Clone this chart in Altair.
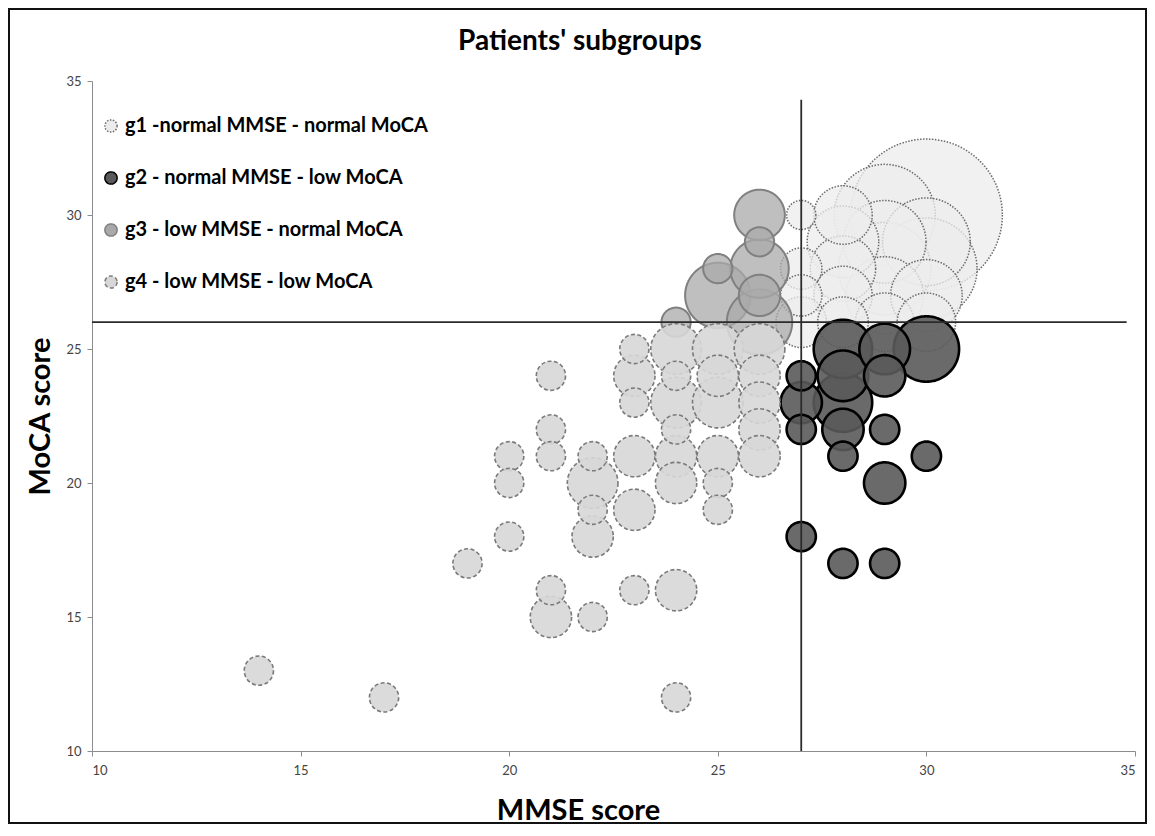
import altair as alt
import pandas as pd

# ---------------- data ----------------
G1 = "g1 -normal MMSE - normal MoCA"
G2 = "g2 - normal MMSE - low MoCA"
G3 = "g3 - low MMSE - normal MoCA"
G4 = "g4 - low MMSE - low MoCA"
groups = [G1, G2, G3, G4]
chart_title = "Patients' subgroups"

# g1: normal MMSE, normal MoCA
g1_mmse = [27, 27, 27, 27, 28, 28, 28, 28, 28, 29, 29, 29, 29, 29, 30, 30, 30, 30, 30]
g1_moca = [30, 28, 27, 26, 30, 29, 28, 27, 26, 30, 29, 28, 27, 26, 30, 29, 28, 27, 26]
g1_n    = [1,  2,  2,  3,  4,  6,  5,  4,  3,  12, 8,  10, 7,  4,  27, 9,  12, 6,  4]

# g2: normal MMSE, low MoCA
g2_mmse = [27, 28, 29, 29, 30, 29, 28, 27, 28, 28, 27, 27, 28, 28, 29, 29, 30]
g2_moca = [18, 17, 17, 20, 21, 22, 21, 22, 22, 23, 23, 24, 24, 25, 24, 25, 25]
g2_n    = [1,  1,  1,  2,  1,  1,  1,  1,  2,  4,  2,  1,  3,  4,  2,  3,  5]

# g3: low MMSE, normal MoCA
g3_mmse = [24, 25, 25, 26, 26, 26, 26, 26]
g3_moca = [26, 28, 27, 30, 29, 28, 27, 26]
g3_n    = [1,  1,  5,  3,  1,  4,  2,  5]

# g4: low MMSE, low MoCA
g4_mmse = [14, 17, 19, 20, 20, 20, 21, 21, 21, 21, 21, 22, 22, 22, 22, 22,
           23, 23, 23, 23, 23, 23, 24, 24, 24, 24, 24, 24, 24, 24,
           25, 25, 25, 25, 25, 25, 26, 26, 26, 26, 26]
g4_moca = [13, 12, 17, 21, 20, 18, 24, 22, 21, 16, 15, 21, 20, 19, 18, 15,
           25, 24, 23, 21, 19, 16, 25, 24, 23, 22, 21, 20, 16, 12,
           25, 24, 23, 21, 20, 19, 25, 24, 23, 22, 21]
g4_n    = [1,  1,  1,  1,  1,  1,  1,  1,  1,  1,  2,  1,  3,  1,  2,  1,
           1,  2,  1,  2,  2,  1,  3,  1,  3,  1,  2,  2,  2,  1,
           3,  2,  3,  2,  1,  1,  3,  2,  2,  2,  2]

# threshold lines
cut_mmse = 27
cut_moca = 26
vline_moca = [10, 34.3]
hline_mmse = [10, 34.8]

x_ticks = [10, 15, 20, 25, 30, 35]
y_ticks = [10, 15, 20, 25, 30, 35]

# ---------------- table ----------------
rows = []
for grp, xs, ys, ns in [(G1, g1_mmse, g1_moca, g1_n), (G2, g2_mmse, g2_moca, g2_n),
                        (G3, g3_mmse, g3_moca, g3_n), (G4, g4_mmse, g4_moca, g4_n)]:
    for x, y, n in sorted(zip(xs, ys, ns), key=lambda t: -t[2]):
        rows.append({"group": grp, "mmse": x, "moca": y, "n": n})
df = pd.DataFrame(rows)
df["z"] = range(len(df))

fills = ["#ececec", "#5a5a5a", "#a9a9a9", "#d7d7d7"]
strokes = ["#6a6a6a", "#000000", "#808080", "#7a7a7a"]
dashes = [[1.5, 1.5], [1, 0], [1, 0], [4, 2.5]]
widths = {G1: 1.5, G2: 2.6, G3: 2.0, G4: 1.6}
opac = {G1: 0.75, G2: 0.9, G3: 0.75, G4: 0.9}

FONT = "Lato"
W, H = 1043, 670

leg = alt.Legend(orient="none", legendX=9, legendY=35, title=None, padding=0,
                 labelFont=FONT, labelFontSize=20, labelFontWeight="bold",
                 labelColor="black", labelOffset=4, labelLimit=0, symbolSize=150,
                 symbolStrokeWidth=1.5, rowPadding=32, symbolType="circle")

xenc = alt.X("mmse:Q", scale=alt.Scale(domain=[10, 35], nice=False, zero=False),
             axis=alt.Axis(values=x_ticks, title="MMSE score", grid=False,
                           titleX=486, titleY=68, titleBaseline="alphabetic",
                           titleFont=FONT, titleFontSize=29, titleFontWeight="bold",
                           titleColor="black", labelPadding=8))
yenc = alt.Y("moca:Q", scale=alt.Scale(domain=[10, 35], nice=False, zero=False),
             axis=alt.Axis(values=y_ticks, title="MoCA score", grid=False,
                           titleX=-52, titleY=335, titleAngle=-90,
                           titleAlign="center", titleBaseline="middle",
                           titleFont=FONT, titleFontSize=29, titleFontWeight="bold",
                           titleColor="black", labelPadding=6))

layers = []
for i, g in enumerate(groups):
    layers.append(
        alt.Chart(df).transform_filter(alt.datum.group == g)
        .mark_circle(strokeWidth=widths[g], fillOpacity=opac[g], strokeOpacity=1, opacity=1)
        .encode(
            x=xenc, y=yenc,
            size=alt.Size("n:Q", scale=alt.Scale(domain=[0, 30], range=[0, 25650]), legend=None),
            fill=alt.Fill("group:N", scale=alt.Scale(domain=groups, range=fills), legend=leg),
            stroke=alt.Stroke("group:N", scale=alt.Scale(domain=groups, range=strokes), legend=leg),
            strokeDash=alt.StrokeDash("group:N", scale=alt.Scale(domain=groups, range=dashes), legend=leg),
            order=alt.Order("z:Q"),
        )
    )

vdf = pd.DataFrame({"mmse": [cut_mmse], "moca": [vline_moca[0]], "moca2": [vline_moca[1]]})
hdf = pd.DataFrame({"mmse": [hline_mmse[0]], "mmse2": [hline_mmse[1]], "moca": [cut_moca]})
vline = alt.Chart(vdf).mark_rule(color="#2b2b2b", strokeWidth=1.8).encode(
    x="mmse:Q", y="moca:Q", y2="moca2:Q")
hline = alt.Chart(hdf).mark_rule(color="#2b2b2b", strokeWidth=1.8).encode(
    x="mmse:Q", x2="mmse2:Q", y="moca:Q")

frame = alt.Chart(pd.DataFrame({"f": [0]})).mark_rect(
    fillOpacity=0, stroke="#111111", strokeWidth=2).encode(
    x=alt.value(-83), x2=alt.value(1054), y=alt.value(-72), y2=alt.value(742))

title = alt.Chart(pd.DataFrame({"t": [chart_title]})).mark_text(
    font=FONT, fontSize=28, fontWeight="bold", color="black",
    align="center", baseline="middle").encode(
    text="t:N", x=alt.value(488), y=alt.value(-39))

chart = alt.layer(*layers, vline, hline, frame, title).properties(
    width=W, height=H,
    background="white",
    autosize=alt.AutoSizeParams(type="none"),
    padding={"left": 84, "top": 73, "right": 12, "bottom": 75},
).configure_view(strokeWidth=0, stroke="transparent").configure_axis(
    labelFont=FONT, labelFontSize=13, labelColor="#444444",
    domainColor="#8c8c8c", tickColor="#8c8c8c", tickSize=5,
)

chart.save("out.html", embed_options={"renderer": "svg", "actions": False})
